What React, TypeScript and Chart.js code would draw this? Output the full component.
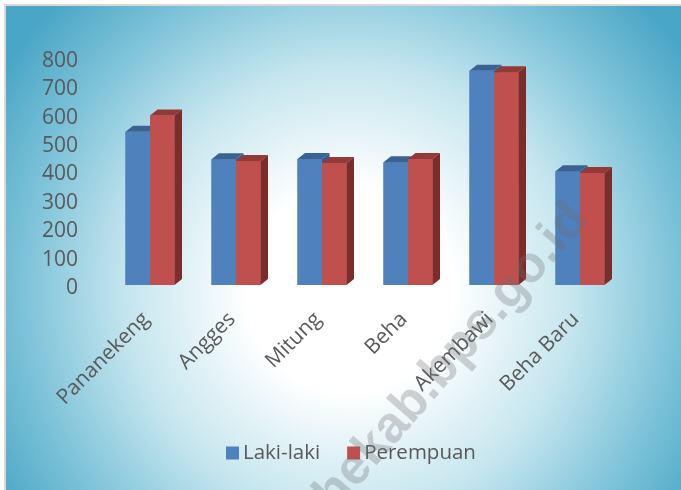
import React, { useEffect, useRef } from "react";
import { Chart, registerables } from "chart.js";

Chart.register(...registerables);

const categories = ["Pananekeng", "Angges", "Mitung", "Beha", "Akembawi", "Beha Baru"];
const lakiLaki = [540, 443, 444, 433, 755, 401];
const perempuan = [597, 437, 430, 444, 750, 395];
const yTicks = [0, 100, 200, 300, 400, 500, 600, 700, 800];
const seriesNames = ["Laki-laki", "Perempuan"];
const watermark = "sangihekab.bps.go.id";

const FRONT = ["#4F81BD", "#C0504D"];
const TOP = ["#3B6391", "#933A38"];
const SIDE = ["#375C89", "#7B2D2C"];
const DX = 7.5;
const DY = -6;
const FONT = "'Open Sans', sans-serif";
const TEXT = "#595959";

const bgPlugin = {
  id: "bg",
  beforeDraw(chart: any) {
    const { ctx, width, height } = chart;
    ctx.save();
    ctx.fillStyle = "#ffffff";
    ctx.fillRect(0, 0, width, height);
    ctx.fillStyle = "#D9D9D9";
    ctx.fillRect(4, 4, width - 4, 2);
    ctx.fillRect(4, 4, 2, height - 4);
    const g = ctx.createRadialGradient(350, 290, 0, 350, 290, 410);
    g.addColorStop(0, "#FFFFFF");
    g.addColorStop(0.25, "#FFFFFF");
    g.addColorStop(0.55, "#C4E5EE");
    g.addColorStop(0.8, "#7CC2D8");
    g.addColorStop(1, "#4AA6C6");
    ctx.fillStyle = g;
    ctx.fillRect(6, 6, width - 6, height - 6);
    ctx.restore();
  },
};

const bars3dPlugin = {
  id: "bars3d",
  afterDatasetsDraw(chart: any) {
    const ctx = chart.ctx;
    ctx.save();
    for (let d = 0; d < chart.data.datasets.length; d++) {
      const meta = chart.getDatasetMeta(d);
      meta.data.forEach((bar: any) => {
        const { x, y, base, width } = bar.getProps(["x", "y", "base", "width"], true);
        const l = x - width / 2;
        const r = x + width / 2;
        ctx.fillStyle = FRONT[d];
        ctx.fillRect(l, y, width, base - y);
        ctx.fillStyle = TOP[d];
        ctx.beginPath();
        ctx.moveTo(l, y);
        ctx.lineTo(r, y);
        ctx.lineTo(r + DX, y + DY);
        ctx.lineTo(l + DX, y + DY);
        ctx.closePath();
        ctx.fill();
        ctx.fillStyle = SIDE[d];
        ctx.beginPath();
        ctx.moveTo(r, y);
        ctx.lineTo(r + DX, y + DY);
        ctx.lineTo(r + DX, base + DY);
        ctx.lineTo(r, base);
        ctx.closePath();
        ctx.fill();
      });
    }
    ctx.restore();
  },
};

const legendPlugin = {
  id: "customLegend",
  afterDraw(chart: any) {
    const ctx = chart.ctx;
    ctx.save();
    ctx.font = `20.5px ${FONT}`;
    ctx.textBaseline = "middle";
    ctx.textAlign = "left";
    let x = 226;
    const cy = 453;
    chart.data.datasets.forEach((ds: any, i: number) => {
      ctx.fillStyle = FRONT[i];
      ctx.fillRect(x, cy - 6.5, 13, 13);
      ctx.fillStyle = TEXT;
      ctx.fillText(ds.label, x + 17, cy);
      x += 17 + ctx.measureText(ds.label).width + 27;
    });
    ctx.restore();
  },
};

const watermarkPlugin = {
  id: "wm",
  afterDraw(chart: any) {
    const ctx = chart.ctx;
    ctx.save();
    ctx.translate(590, 220);
    ctx.rotate((-49 * Math.PI) / 180);
    ctx.font = "bold 51px 'Liberation Sans', Arial, sans-serif";
    ctx.textAlign = "right";
    ctx.textBaseline = "alphabetic";
    ctx.fillStyle = "rgba(110,110,110,0.3)";
    ctx.fillText(watermark, 0, 0);
    ctx.restore();
  },
};

export default function App() {
  const ref = useRef<HTMLCanvasElement>(null);
  useEffect(() => {
    if (!ref.current) return;
    const chart = new Chart(ref.current, {
      type: "bar",
      data: {
        labels: categories,
        datasets: [
          { label: seriesNames[0], data: lakiLaki, backgroundColor: FRONT[0], borderWidth: 0 },
          { label: seriesNames[1], data: perempuan, backgroundColor: FRONT[1], borderWidth: 0 },
        ],
      },
      options: {
        animation: false,
        responsive: true,
        maintainAspectRatio: false,
        devicePixelRatio: 1,
        layout: { padding: { left: 20, right: 58, top: 58, bottom: 55 } },
        datasets: { bar: { categoryPercentage: 0.57, barPercentage: 1 } },
        plugins: {
          legend: { display: false },
          tooltip: { enabled: false },
        },
        scales: {
          x: {
            grid: { display: false, drawTicks: false },
            border: { display: false },
            ticks: {
              minRotation: 45,
              maxRotation: 45,
              padding: 22,
              labelOffset: -4,
              color: TEXT,
              font: { family: FONT, size: 21 },
            },
            afterFit(scale: any) {
              scale.height = 150;
            },
          },
          y: {
            min: 0,
            max: 800,
            afterBuildTicks(scale: any) {
              scale.ticks = yTicks.map((v) => ({ value: v }));
            },
            grid: { display: false, drawTicks: false },
            border: { display: false },
            ticks: {
              autoSkip: false,
              padding: 29,
              labelOffset: 3,
              color: TEXT,
              font: { family: FONT, size: 21 },
            },
            afterFit(scale: any) {
              scale.width = 87;
            },
          },
        },
      },
      plugins: [bgPlugin, bars3dPlugin, legendPlugin, watermarkPlugin],
    });
    return () => chart.destroy();
  }, []);
  return (
    <div style={{ position: "fixed", left: 0, top: 0, width: 681, height: 490 }}>
      <canvas ref={ref} />
    </div>
  );
}
